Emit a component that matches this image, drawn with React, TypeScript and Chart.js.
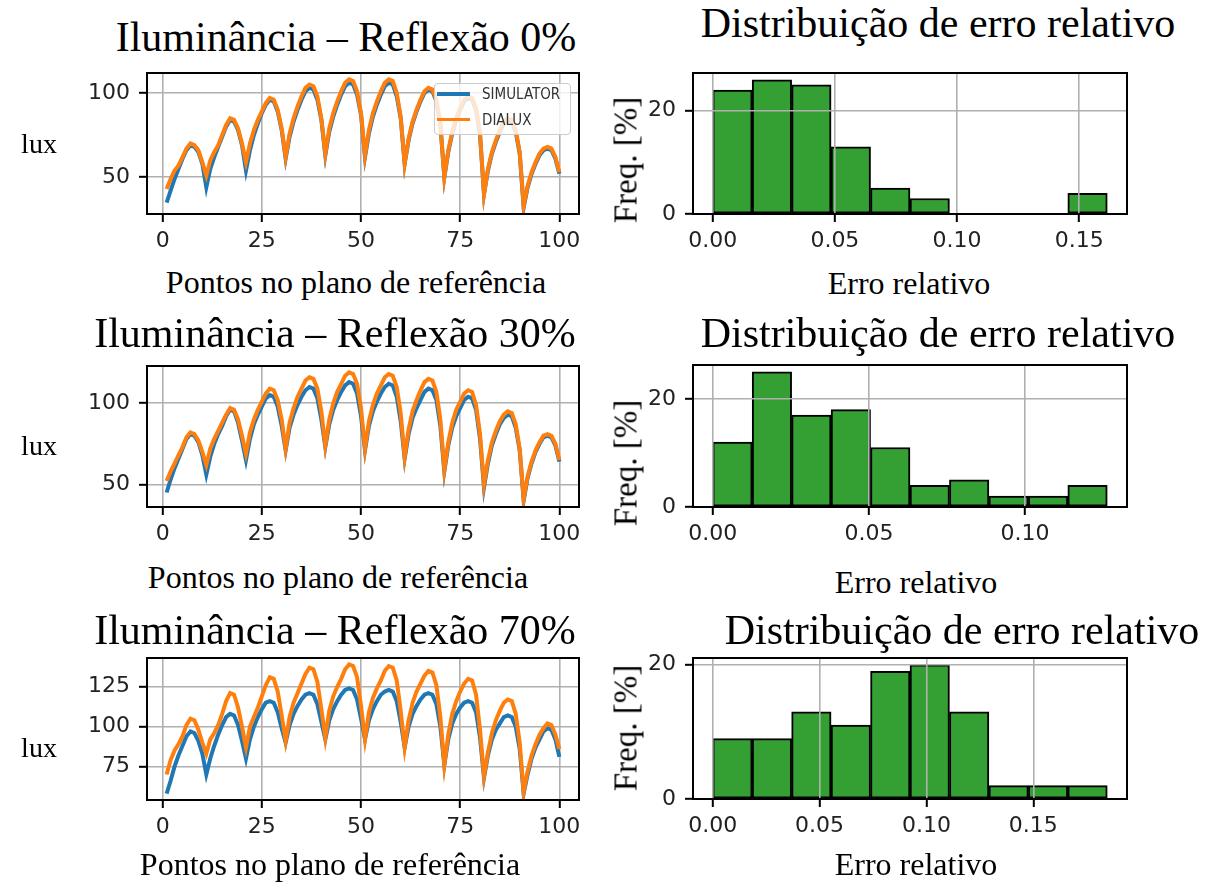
import React, { useEffect, useRef } from "react";
import { Chart, registerables } from "chart.js";

Chart.register(...registerables);

// ---------------- DATA ----------------
// point numbers on the reference plane (10 x 10 grid, numbered 1..100)
const pointNumbers: number[] = Array.from({ length: 100 }, (_, i) => i + 1);

// Reflexão 0%
const simulator0: number[] = [
  35, 42, 49, 55, 61, 66, 69, 68, 65, 58,
  44, 55, 62, 68, 74, 80, 84, 83, 78, 69,
  54, 66, 75, 82, 88, 93, 96, 95, 89, 78,
  61, 74, 83, 90, 96, 101, 103, 102, 96, 84,
  63, 77, 86, 93, 99, 104, 106, 105, 99, 87,
  62, 76, 86, 93, 99, 104, 106, 105, 98, 85,
  58, 72, 82, 89, 95, 100, 102, 101, 95, 81,
  50, 65, 76, 84, 90, 95, 97, 96, 90, 75,
  40, 54, 64, 71, 77, 82, 84, 83, 77, 64,
  32, 44, 52, 58, 63, 66, 67, 66, 61, 52,
];
const dialux0: number[] = [
  43, 49, 54, 57, 62, 67, 70, 69, 66, 59,
  51, 60, 65, 69, 75, 81, 85, 84, 79, 70,
  59, 70, 78, 84, 89, 94, 97, 96, 90, 79,
  62, 76, 85, 92, 98, 103, 105, 104, 98, 85,
  64, 79, 88, 95, 101, 106, 108, 107, 101, 88,
  63, 78, 88, 95, 101, 106, 108, 107, 100, 86,
  58, 73, 83, 90, 96, 101, 103, 102, 96, 82,
  50, 66, 77, 85, 91, 96, 98, 97, 91, 76,
  40, 55, 65, 72, 78, 83, 85, 84, 78, 65,
  33, 45, 53, 59, 64, 67, 68, 67, 62, 53,
];

// Reflexão 30%
const simulator30: number[] = [
  45, 53, 60, 66, 72, 78, 81, 80, 76, 68,
  56, 67, 75, 81, 86, 92, 96, 95, 88, 77,
  65, 78, 87, 93, 98, 103, 105, 104, 98, 86,
  71, 85, 93, 99, 104, 108, 110, 109, 103, 90,
  73, 87, 96, 102, 107, 111, 113, 112, 106, 92,
  71, 86, 95, 101, 106, 110, 112, 111, 104, 89,
  66, 81, 91, 97, 102, 107, 109, 108, 102, 86,
  58, 74, 85, 92, 97, 102, 104, 103, 96, 78,
  48, 63, 74, 81, 87, 91, 93, 92, 85, 71,
  40, 54, 63, 70, 75, 79, 80, 79, 74, 64,
];
const dialux30: number[] = [
  52, 58, 63, 68, 73, 79, 82, 81, 77, 70,
  62, 72, 78, 83, 88, 93, 97, 96, 90, 80,
  69, 82, 90, 96, 101, 106, 109, 108, 102, 90,
  72, 88, 97, 104, 109, 114, 116, 115, 109, 95,
  74, 90, 100, 107, 112, 117, 119, 118, 112, 97,
  72, 89, 99, 106, 111, 116, 118, 117, 110, 94,
  67, 84, 95, 102, 108, 113, 115, 114, 107, 90,
  59, 76, 88, 96, 101, 106, 108, 107, 99, 81,
  50, 65, 76, 83, 89, 93, 95, 94, 87, 72,
  41, 55, 64, 71, 76, 80, 81, 80, 75, 65,
];

// Reflexão 70%
const simulator70: number[] = [
  58, 66, 75, 82, 88, 94, 97, 96, 91, 83,
  70, 80, 88, 95, 101, 106, 108, 107, 101, 91,
  80, 92, 100, 106, 111, 115, 116, 115, 109, 99,
  90, 101, 108, 113, 117, 120, 121, 120, 114, 103,
  92, 104, 111, 116, 120, 123, 124, 123, 117, 105,
  92, 104, 111, 116, 120, 122, 123, 122, 116, 103,
  87, 100, 108, 113, 117, 120, 121, 120, 114, 100,
  76, 92, 102, 108, 112, 115, 116, 115, 109, 93,
  68, 82, 92, 98, 102, 106, 107, 106, 100, 86,
  58, 70, 80, 87, 92, 97, 99, 98, 92, 81,
];
const dialux70: number[] = [
  70, 79, 85, 89, 94, 101, 105, 104, 98, 90,
  83, 92, 96, 101, 108, 116, 121, 120, 112, 100,
  87, 100, 106, 112, 119, 126, 131, 130, 122, 107,
  91, 106, 115, 121, 127, 133, 137, 136, 128, 111,
  93, 110, 119, 125, 130, 136, 139, 138, 131, 113,
  92, 109, 118, 124, 129, 135, 138, 137, 129, 110,
  87, 104, 115, 122, 127, 132, 135, 134, 126, 106,
  76, 95, 108, 116, 122, 127, 130, 129, 120, 98,
  69, 84, 96, 104, 110, 115, 117, 116, 108, 90,
  59, 72, 82, 89, 95, 99, 102, 101, 95, 86,
];

// histograms of relative error (10 bins from 0 to max error)
const freq0: number[] = [24, 26, 25, 13, 5, 3, 0, 0, 0, 4];
const errMax0 = 0.1615;
const freq30: number[] = [12, 25, 17, 18, 11, 4, 5, 2, 2, 4];
const errMax30 = 0.1263;
const freq70: number[] = [9, 9, 13, 11, 19, 20, 13, 2, 2, 2];
const errMax70 = 0.1846;

// tick labels
const pointTicks: number[] = [0, 25, 50, 75, 100];
const luxTicks0: number[] = [50, 100];
const luxTicks30: number[] = [50, 100];
const luxTicks70: number[] = [75, 100, 125];
const errTicks0: number[] = [0, 0.05, 0.1, 0.15];
const errTicks30: number[] = [0, 0.05, 0.1];
const errTicks70: number[] = [0, 0.05, 0.1, 0.15];
const freqTicks: number[] = [0, 20];

const seriesNames = ["SIMULATOR", "DIALUX"];
const titlesLeft = ["Iluminância – Reflexão 0%", "Iluminância – Reflexão 30%", "Iluminância – Reflexão 70%"];
const titleRight = "Distribuição de erro relativo";
const xLabelLeft = "Pontos no plano de referência";
const xLabelRight = "Erro relativo";
const yLabelLeft = "lux";
const yLabelRight = "Freq. [%]";

// ---------------- STYLE ----------------
const BLUE = "#1f77b4";
const ORANGE = "#ff7f0e";
const GREEN = "rgb(52,160,52)";
const TICK_FONT = "'DejaVu Sans', sans-serif";
const SERIF = "'Liberation Serif', 'Times New Roman', serif";
const Y_W = 90;
const PAD_T = 12;
const PAD_R = 30;
const X_H = 50;

type Rect = { L: number; T: number; R: number; B: number };

const framePlugin = {
  id: "frame",
  afterDraw(chart: any) {
    const { ctx, chartArea } = chart;
    const { left, top, right, bottom } = chartArea;
    ctx.save();
    ctx.strokeStyle = "#000";
    ctx.lineWidth = 2;
    ctx.strokeRect(left, top, right - left, bottom - top);
    ctx.restore();
  },
};

function axis(
  min: number,
  max: number,
  ticks: number[],
  fmt: (v: number) => string,
  horizontal: boolean,
  gridOnTop: boolean
) {
  return {
    type: "linear",
    min,
    max,
    offset: false,
    afterBuildTicks: (ax: any) => {
      ax.ticks = ticks.map((v) => ({ value: v }));
    },
    afterFit: (s: any) => {
      if (horizontal) {
        s.height = X_H;
        s.paddingLeft = 0;
        s.paddingRight = 0;
      } else {
        s.width = Y_W;
        s.paddingTop = 0;
        s.paddingBottom = 0;
      }
    },
    ticks: {
      font: { family: TICK_FONT, size: 22 },
      color: "#222",
      padding: horizontal ? 6 : 9,
      maxRotation: 0,
      autoSkip: false,
      callback: (v: any) => fmt(Number(v)),
    },
    grid: {
      color: "#b0b0b0",
      lineWidth: 1.6,
      tickColor: "#000",
      tickLength: 8,
      tickWidth: 2,
      offset: false,
      z: gridOnTop ? 1 : -1,
    },
    border: { display: false },
  };
}

function lineConfig(sim: number[], dia: number[], yTicks: number[]) {
  const all = sim.concat(dia);
  const lo = Math.min(...all);
  const hi = Math.max(...all);
  const m = (hi - lo) * 0.05;
  const xlo = pointNumbers[0];
  const xhi = pointNumbers[pointNumbers.length - 1];
  const xm = (xhi - xlo) * 0.05;
  return {
    type: "line",
    data: {
      datasets: [
        {
          label: seriesNames[0],
          data: sim.map((v, i) => ({ x: pointNumbers[i], y: v })),
          borderColor: BLUE,
          borderWidth: 4,
          pointRadius: 0,
          tension: 0,
          fill: false,
          order: 2,
        },
        {
          label: seriesNames[1],
          data: dia.map((v, i) => ({ x: pointNumbers[i], y: v })),
          borderColor: ORANGE,
          borderWidth: 4,
          pointRadius: 0,
          tension: 0,
          fill: false,
          order: 1,
        },
      ],
    },
    options: {
      responsive: false,
      devicePixelRatio: 1,
      animation: false,
      events: [],
      layout: { padding: { left: 0, top: PAD_T, right: PAD_R, bottom: 0 } },
      plugins: { legend: { display: false }, tooltip: { enabled: false } },
      scales: {
        x: axis(xlo - xm, xhi + xm, pointTicks, (v) => String(v), true, false),
        y: axis(lo - m, hi + m, yTicks, (v) => String(v), false, false),
      },
    },
    plugins: [framePlugin],
  };
}

function histConfig(freq: number[], errMax: number, xTicks: number[]) {
  const w = errMax / freq.length;
  const fmax = Math.max(...freq);
  return {
    type: "bar",
    data: {
      datasets: [
        {
          data: freq.map((f, i) => ({ x: (i + 0.5) * w, y: f })),
          backgroundColor: GREEN,
          borderColor: "#000",
          borderWidth: 2,
          borderSkipped: false,
          barPercentage: 1,
          categoryPercentage: 1,
        },
      ],
    },
    options: {
      responsive: false,
      devicePixelRatio: 1,
      animation: false,
      events: [],
      layout: { padding: { left: 0, top: PAD_T, right: PAD_R, bottom: 0 } },
      plugins: { legend: { display: false }, tooltip: { enabled: false } },
      scales: {
        x: axis(-0.05 * errMax, 1.05 * errMax, xTicks, (v) => v.toFixed(2), true, true),
        y: axis(0, 1.05 * fmax, freqTicks, (v) => String(v), false, true),
      },
    },
    plugins: [framePlugin],
  };
}

function ChartCanvas({ rect, build }: { rect: Rect; build: () => any }) {
  const ref = useRef<HTMLCanvasElement>(null);
  useEffect(() => {
    const chart = new Chart(ref.current as HTMLCanvasElement, build() as any);
    return () => chart.destroy();
  }, []);
  const left = rect.L - Y_W;
  const top = rect.T - PAD_T;
  const width = rect.R - rect.L + Y_W + PAD_R;
  const height = rect.B - rect.T + PAD_T + X_H;
  return (
    <canvas
      ref={ref}
      width={width}
      height={height}
      style={{ position: "absolute", left, top, width, height }}
    />
  );
}

function Label({
  text,
  x,
  y,
  size,
  rotate,
}: {
  text: string;
  x: number;
  y: number;
  size: number;
  rotate?: boolean;
}) {
  return (
    <div
      style={{
        position: "absolute",
        left: x,
        top: y,
        transform: `translate(-50%, -50%)${rotate ? " rotate(-90deg)" : ""}`,
        fontFamily: SERIF,
        fontSize: size,
        lineHeight: 1,
        whiteSpace: "nowrap",
        color: "#000",
      }}
    >
      {text}
    </div>
  );
}

export default function App() {
  const rows = [
    {
      line: { L: 147, T: 73, R: 579, B: 214 },
      hist: { L: 693, T: 73, R: 1127, B: 214 },
      sim: simulator0,
      dia: dialux0,
      luxTicks: luxTicks0,
      freq: freq0,
      errMax: errMax0,
      errTicks: errTicks0,
      t1: { x: 346, y: 37 },
      t2: { x: 938, y: 23 },
      lux: { x: 39, y: 144 },
      px: { x: 356, y: 282 },
      fq: { x: 626, y: 160 },
      ex: { x: 909, y: 283 },
    },
    {
      line: { L: 147, T: 366, R: 579, B: 507 },
      hist: { L: 693, T: 365, R: 1127, B: 507 },
      sim: simulator30,
      dia: dialux30,
      luxTicks: luxTicks30,
      freq: freq30,
      errMax: errMax30,
      errTicks: errTicks30,
      t1: { x: 335, y: 333 },
      t2: { x: 938, y: 333 },
      lux: { x: 39, y: 446 },
      px: { x: 338, y: 577 },
      fq: { x: 626, y: 463 },
      ex: { x: 916, y: 582 },
    },
    {
      line: { L: 147, T: 658, R: 579, B: 800 },
      hist: { L: 693, T: 658, R: 1127, B: 799 },
      sim: simulator70,
      dia: dialux70,
      luxTicks: luxTicks70,
      freq: freq70,
      errMax: errMax70,
      errTicks: errTicks70,
      t1: { x: 335, y: 630 },
      t2: { x: 962, y: 630 },
      lux: { x: 39, y: 748 },
      px: { x: 330, y: 864 },
      fq: { x: 626, y: 728 },
      ex: { x: 916, y: 864 },
    },
  ];

  return (
    <div
      style={{
        position: "absolute",
        left: 0,
        top: 0,
        width: 1214,
        height: 886,
        background: "#fff",
        overflow: "hidden",
      }}
    >
      {rows.map((r, i) => (
        <React.Fragment key={i}>
          <ChartCanvas rect={r.line} build={() => lineConfig(r.sim, r.dia, r.luxTicks)} />
          <ChartCanvas rect={r.hist} build={() => histConfig(r.freq, r.errMax, r.errTicks)} />
          <Label text={titlesLeft[i]} x={r.t1.x} y={r.t1.y} size={42} />
          <Label text={titleRight} x={r.t2.x} y={r.t2.y} size={42} />
          <Label text={yLabelLeft} x={r.lux.x} y={r.lux.y} size={28} />
          <Label text={xLabelLeft} x={r.px.x} y={r.px.y} size={32} />
          <Label text={yLabelRight} x={r.fq.x} y={r.fq.y} size={33} rotate />
          <Label text={xLabelRight} x={r.ex.x} y={r.ex.y} size={32} />
        </React.Fragment>
      ))}
      {/* legend of the first panel */}
      <div
        style={{
          position: "absolute",
          left: 434,
          top: 83,
          width: 137,
          height: 52,
          background: "rgba(255,255,255,0.8)",
          border: "1px solid #cccccc",
          borderRadius: 4,
          boxSizing: "border-box",
        }}
      />
      {[BLUE, ORANGE].map((c, k) => (
        <React.Fragment key={k}>
          <div
            style={{
              position: "absolute",
              left: 437,
              top: (k === 0 ? 94 : 119.5) - 1.75,
              width: 33,
              height: 3.5,
              background: c,
            }}
          />
          <div
            style={{
              position: "absolute",
              left: 482,
              top: k === 0 ? 94 : 119.5,
              transform: "translateY(-50%)",
              fontFamily: "'DejaVu Sans Condensed', 'DejaVu Sans', sans-serif",
              fontSize: 15,
              lineHeight: 1,
              color: "#333",
              whiteSpace: "nowrap",
            }}
          >
            {seriesNames[k]}
          </div>
        </React.Fragment>
      ))}
    </div>
  );
}
